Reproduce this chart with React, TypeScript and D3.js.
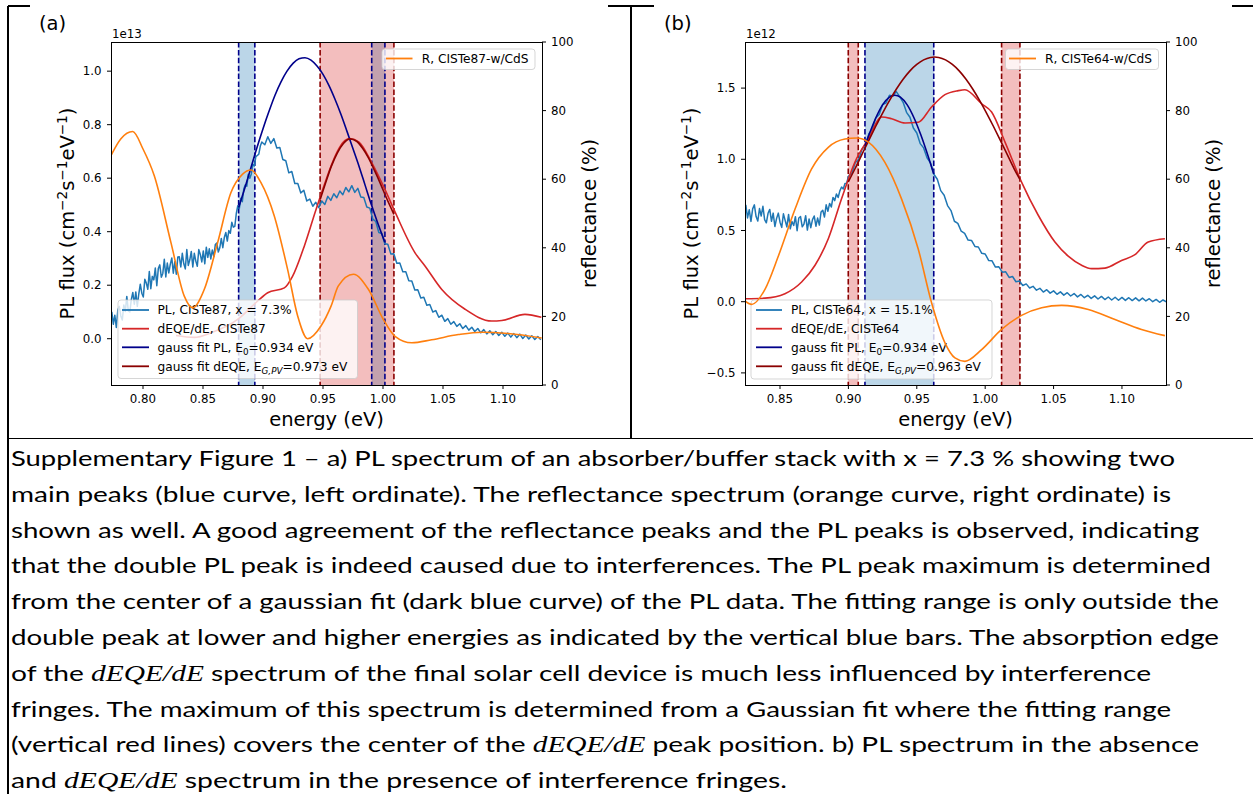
import React from "react";
import * as d3 from "d3";

// ================= panel (a) data =================
// PL flux, dense low-energy segment (noisy)
const PL_A_LOW_START = 0.774;
const PL_A_LOW_STEP = 0.00125;
const PL_A_LOW = [
  0.100, 0.054, 0.088, 0.042, 0.107, 0.121, 0.085, 0.070, 0.126, 0.102,
  0.158, 0.104, 0.100, 0.146, 0.173, 0.129, 0.175, 0.121, 0.168, 0.204,
  0.170, 0.156, 0.222, 0.208, 0.185, 0.251, 0.187, 0.233, 0.220, 0.264,
  0.198, 0.262, 0.276, 0.230, 0.244, 0.297, 0.231, 0.283, 0.246, 0.279,
  0.302, 0.245, 0.288, 0.241, 0.305, 0.306, 0.268, 0.319, 0.280, 0.261,
  0.333, 0.274, 0.295, 0.326, 0.268, 0.319, 0.290, 0.271, 0.333, 0.315,
  0.287, 0.328, 0.280, 0.342, 0.304, 0.336, 0.298, 0.332, 0.307, 0.352,
  0.358, 0.324, 0.340, 0.375, 0.340, 0.378, 0.397, 0.365, 0.404, 0.394,
  0.435, 0.417, 0.420, 0.468, 0.497, 0.486, 0.525, 0.512, 0.560, 0.575,
  0.570, 0.615, 0.600, 0.616, 0.652, 0.646, 0.680, 0.685, 0.690, 0.720,
];
// PL flux, high-energy segment
const PL_A_HIGH_START = 0.899;
const PL_A_HIGH_STEP = 0.0025;
const PL_A_HIGH = [
  0.735, 0.725, 0.755, 0.73, 0.748, 0.713, 0.715, 0.67, 0.665, 0.62,
  0.625, 0.58, 0.58, 0.545, 0.555, 0.515, 0.522, 0.495, 0.51, 0.49,
  0.515, 0.502, 0.532, 0.517, 0.542, 0.527, 0.552, 0.538, 0.565, 0.549,
  0.572, 0.547, 0.562, 0.53, 0.528, 0.492, 0.488, 0.447, 0.438, 0.397,
  0.393, 0.355, 0.353, 0.317, 0.318, 0.282, 0.283, 0.25, 0.25, 0.217,
  0.216, 0.182, 0.183, 0.152, 0.155, 0.125, 0.128, 0.10, 0.105, 0.08,
  0.088, 0.065, 0.075, 0.054, 0.064, 0.046, 0.056, 0.038, 0.049, 0.032,
  0.043, 0.027, 0.038, 0.022, 0.034, 0.018, 0.03, 0.015, 0.027, 0.012,
  0.024, 0.009, 0.021, 0.006, 0.019, 0.004, 0.017, 0.001, 0.014, -0.001,
  0.011, -0.003, 0.008, -0.004,
];
const DEQE_A_E = [0.8275, 0.8428, 0.8567, 0.8789, 0.8956, 0.9039, 0.9178, 0.9247, 0.9344, 0.9442, 0.9511, 0.9567, 0.962, 0.967, 0.9725, 0.98, 0.9906, 1.0017, 1.01, 1.0267, 1.035, 1.049, 1.0684, 1.0906, 1.099, 1.1183, 1.132];
const DEQE_A_V = [0.012, 0.005, 0.022, 0.072, 0.141, 0.172, 0.19, 0.234, 0.346, 0.483, 0.575, 0.645, 0.70, 0.735, 0.748, 0.735, 0.658, 0.557, 0.474, 0.321, 0.272, 0.184, 0.11, 0.066, 0.068, 0.091, 0.08];
const GPL_A_E = [0.8797, 0.885, 0.89, 0.895, 0.90, 0.905, 0.91, 0.915, 0.92, 0.925, 0.93, 0.935, 0.94, 0.945, 0.95, 0.955, 0.96, 0.965, 0.97, 0.975, 0.98, 0.985, 0.99, 0.995, 1.0016];
const GPL_A_V = [0.49, 0.565, 0.64, 0.715, 0.785, 0.85, 0.91, 0.96, 1.0, 1.029, 1.046, 1.05, 1.041, 1.019, 0.988, 0.946, 0.895, 0.838, 0.775, 0.71, 0.645, 0.575, 0.505, 0.44, 0.36];
const GDEQE_A_E = [0.9476, 0.952, 0.957, 0.962, 0.967, 0.9725, 0.978, 0.983, 0.988, 0.993, 0.998, 1.003, 1.0091];
const GDEQE_A_V = [0.52, 0.58, 0.645, 0.695, 0.73, 0.747, 0.738, 0.712, 0.675, 0.628, 0.578, 0.525, 0.465];
const REFL_A_E = [0.7733, 0.7816, 0.7914, 0.80, 0.8094, 0.8233, 0.8344, 0.8414, 0.8511, 0.8622, 0.8733, 0.883, 0.89, 0.8983, 0.9094, 0.9205, 0.9289, 0.9372, 0.9483, 0.9567, 0.9628, 0.9753, 0.9878, 1.0003, 1.01, 1.024, 1.0406, 1.0628, 1.0823, 1.1045, 1.1322];
const REFL_A_V = [66.9, 71.8, 73.9, 68.8, 61, 41.5, 25.9, 22.5, 27.9, 41.5, 56.1, 61.5, 62.7, 59, 49.3, 33.7, 20.1, 13.5, 17.2, 23, 28.9, 32.3, 27.9, 19.1, 14.2, 12.3, 13.2, 14.7, 15.4, 15.0, 13.7];
const BLUE_SPANS_A: [number, number][] = [[0.8797, 0.8932], [0.9906, 1.0016]];
const RED_SPANS_A: [number, number][] = [[0.9476, 1.0091]];
const X_TICKS_A = [0.8, 0.85, 0.9, 0.95, 1.0, 1.05, 1.1];
const Y_TICKS_A = [0.0, 0.2, 0.4, 0.6, 0.8, 1.0];

// ================= panel (b) data =================
const PL_B_LOW_START = 0.825;
const PL_B_LOW_STEP = 0.00125;
const PL_B_LOW = [
  0.68, 0.588, 0.646, 0.564, 0.652, 0.68, 0.598, 0.566, 0.654, 0.602,
  0.67, 0.577, 0.554, 0.621, 0.648, 0.565, 0.622, 0.528, 0.585, 0.622,
  0.558, 0.522, 0.617, 0.571, 0.525, 0.613, 0.512, 0.563, 0.535, 0.597,
  0.499, 0.588, 0.598, 0.526, 0.545, 0.604, 0.503, 0.581, 0.52, 0.576,
  0.602, 0.53, 0.587, 0.538, 0.63, 0.642, 0.595, 0.68, 0.635, 0.69,
  0.665, 0.732, 0.71, 0.756, 0.732, 0.778, 0.805, 0.792, 0.83, 0.832,
];
const PL_B_HIGH_START = 0.9;
const PL_B_HIGH_STEP = 0.0025;
const PL_B_HIGH = [
  0.88, 0.90, 0.975, 1.00, 1.07, 1.10, 1.18, 1.21, 1.29, 1.315,
  1.385, 1.395, 1.45, 1.445, 1.475, 1.44, 1.40, 1.33, 1.295, 1.22,
  1.185, 1.11, 1.08, 1.01, 0.975, 0.895, 0.86, 0.78, 0.748, 0.675,
  0.64, 0.565, 0.55, 0.495, 0.48, 0.433, 0.43, 0.388, 0.384, 0.34,
  0.335, 0.29, 0.287, 0.243, 0.245, 0.207, 0.21, 0.17, 0.177, 0.14,
  0.145, 0.114, 0.125, 0.096, 0.108, 0.081, 0.094, 0.068, 0.084, 0.06,
  0.076, 0.052, 0.069, 0.046, 0.063, 0.04, 0.057, 0.034, 0.051, 0.028,
  0.045, 0.023, 0.041, 0.019, 0.037, 0.015, 0.033, 0.012, 0.031, 0.01,
  0.03, 0.009, 0.028, 0.008, 0.027, 0.006, 0.025, 0.005, 0.021, 0.0,
  0.016, -0.004, 0.012, -0.002,
];
const DEQE_B_E = [0.8244, 0.839, 0.8536, 0.8658, 0.8756, 0.8853, 0.895, 0.9048, 0.9146, 0.9243, 0.9316, 0.9414, 0.9511, 0.9608, 0.9706, 0.9803, 0.9852, 0.9974, 1.0047, 1.0145, 1.0266, 1.0388, 1.051, 1.0607, 1.0705, 1.0778, 1.0876, 1.0997, 1.1095, 1.1192, 1.1314];
const DEQE_B_V = [0.021, 0.025, 0.056, 0.138, 0.256, 0.442, 0.723, 0.981, 1.145, 1.297, 1.285, 1.255, 1.26, 1.367, 1.454, 1.482, 1.488, 1.39, 1.332, 1.121, 0.84, 0.607, 0.419, 0.32, 0.256, 0.232, 0.236, 0.29, 0.33, 0.419, 0.442];
const GPL_B_E = [0.9121, 0.915, 0.92, 0.925, 0.93, 0.934, 0.938, 0.943, 0.948, 0.953, 0.958, 0.9624];
const GPL_B_V = [1.093, 1.17, 1.29, 1.382, 1.436, 1.45, 1.436, 1.382, 1.29, 1.17, 1.03, 0.897];
const GDEQE_B_E = [0.8999, 0.905, 0.91, 0.915, 0.92, 0.925, 0.93, 0.935, 0.94, 0.945, 0.95, 0.955, 0.96, 0.963, 0.966, 0.971, 0.976, 0.981, 0.986, 0.991, 0.996, 1.001, 1.006, 1.011, 1.016, 1.021, 1.0254];
const GDEQE_B_V = [0.841, 0.937, 1.036, 1.135, 1.232, 1.325, 1.412, 1.492, 1.562, 1.621, 1.666, 1.698, 1.715, 1.718, 1.715, 1.698, 1.666, 1.621, 1.562, 1.492, 1.412, 1.325, 1.232, 1.135, 1.036, 0.937, 0.858];
const REFL_B_E = [0.8244, 0.8293, 0.839, 0.8488, 0.861, 0.8731, 0.8853, 0.8975, 0.906, 0.9146, 0.9267, 0.9389, 0.9511, 0.9608, 0.9706, 0.9779, 0.9852, 0.9974, 1.012, 1.0266, 1.0413, 1.0559, 1.0754, 1.0949, 1.1143, 1.1314];
const REFL_B_V = [24.5, 23.5, 27.9, 37.6, 51.3, 63, 69.3, 71.7, 72, 70.8, 64.9, 54.2, 39.6, 24, 12.3, 7.9, 6.9, 10.3, 16.2, 20.3, 22.5, 23.2, 22, 19.1, 16.2, 14.4];
const BLUE_SPANS_B: [number, number][] = [[0.9121, 0.9624]];
const RED_SPANS_B: [number, number][] = [[0.8999, 0.9072], [1.012, 1.0254]];
const X_TICKS_B = [0.85, 0.9, 0.95, 1.0, 1.05, 1.1];
const Y_TICKS_B = [-0.5, 0.0, 0.5, 1.0, 1.5];

const R_TICKS = [0, 20, 40, 60, 80, 100];

const LEGEND_A = [
  { pre: "PL, CISTe87, x = 7.3%" },
  { pre: "dEQE/dE, CISTe87" },
  { pre: "gauss fit PL, E", sub: "0", post: "=0.934 eV" },
  { pre: "gauss fit dEQE, E", sub: "G,PV", it: true, post: "=0.973 eV" },
];
const LEGEND_B = [
  { pre: "PL, CISTe64, x = 15.1%" },
  { pre: "dEQE/dE, CISTe64" },
  { pre: "gauss fit PL, E", sub: "0", post: "=0.934 eV" },
  { pre: "gauss fit dEQE, E", sub: "G,PV", it: true, post: "=0.963 eV" },
];

const CAPTION = [
  "Supplementary Figure 1 – a) PL spectrum of an absorber/buffer stack with x = 7.3 % showing two",
  "main peaks (blue curve, left ordinate). The reflectance spectrum (orange curve, right ordinate) is",
  "shown as well. A good agreement of the reflectance peaks and the PL peaks is observed, indicating",
  "that the double PL peak is indeed caused due to interferences. The PL peak maximum is determined",
  "from the center of a gaussian fit (dark blue curve) of the PL data. The fitting range is only outside the",
  "double peak at lower and higher energies as indicated by the vertical blue bars. The absorption edge",
  "of the *dEQE/dE* spectrum of the final solar cell device is much less influenced by interference",
  "fringes. The maximum of this spectrum is determined from a Gaussian fit where the fitting range",
  "(vertical red lines) covers the center of the *dEQE/dE* peak position. b) PL spectrum in the absence",
  "and *dEQE/dE* spectrum in the presence of interference fringes.",
];
const CAPTION_END_X = [1175, 1171, 1199, 1211, 1219, 1219, 1151, 1171, 1199, 787];

// ================= styling =================
const C0 = "#1f77b4", C1 = "#ff7f0e", C3 = "#d62728", DB = "#00008b", DR = "#8b0000";
const FONT = "'DejaVu Sans', sans-serif";
const TICK_FS = 11.8;
const LEG_FS = 12.2;
const LABEL_FS = 19.5;

type LegendEntry = { pre: string; sub?: string; it?: boolean; post?: string };
type Segment = { start: number; step: number; vals: number[] };

interface Cfg {
  id: string;
  letter: string;
  letterX: number;
  left: number; right: number; top: number; bottom: number;
  xDom: [number, number]; yDom: [number, number];
  xTicks: number[]; yTicks: number[];
  offsetText: string;
  pl: Segment[];
  deqeE: number[]; deqeV: number[];
  gplE: number[]; gplV: number[];
  gdeqeE: number[]; gdeqeV: number[];
  reflE: number[]; reflV: number[];
  blueSpans: [number, number][]; redSpans: [number, number][];
  ylabelX: number; rlabelX: number;
  leg: { x0: number; x1: number; y0: number; y1: number; h0: number; h1: number; tx: number };
  legEntries: LegendEntry[];
  uleg: { x0: number; x1: number; h0: number; h1: number; tx: number };
  rText: string;
}

const CFG_A: Cfg = {
  id: "a", letter: "(a)", letterX: 39,
  left: 111, right: 542, top: 42, bottom: 385,
  xDom: [0.77333, 1.1325], yDom: [-0.173, 1.109],
  xTicks: X_TICKS_A, yTicks: Y_TICKS_A, offsetText: "1e13",
  pl: [
    { start: PL_A_LOW_START, step: PL_A_LOW_STEP, vals: PL_A_LOW },
    { start: PL_A_HIGH_START, step: PL_A_HIGH_STEP, vals: PL_A_HIGH },
  ],
  deqeE: DEQE_A_E, deqeV: DEQE_A_V, gplE: GPL_A_E, gplV: GPL_A_V,
  gdeqeE: GDEQE_A_E, gdeqeV: GDEQE_A_V, reflE: REFL_A_E, reflV: REFL_A_V,
  blueSpans: BLUE_SPANS_A, redSpans: RED_SPANS_A,
  ylabelX: 74, rlabelX: 596,
  leg: { x0: 118, x1: 357.5, y0: 300, y1: 378.5, h0: 122, h1: 149, tx: 157.5 },
  legEntries: LEGEND_A,
  uleg: { x0: 382, x1: 535, h0: 386, h1: 412.5, tx: 421.7 },
  rText: "R, CISTe87-w/CdS",
};

const CFG_B: Cfg = {
  id: "b", letter: "(b)", letterX: 664,
  left: 745, right: 1166, top: 42, bottom: 385,
  xDom: [0.8244, 1.1322], yDom: [-0.585, 1.8237],
  xTicks: X_TICKS_B, yTicks: Y_TICKS_B, offsetText: "1e12",
  pl: [
    { start: PL_B_LOW_START, step: PL_B_LOW_STEP, vals: PL_B_LOW },
    { start: PL_B_HIGH_START, step: PL_B_HIGH_STEP, vals: PL_B_HIGH },
  ],
  deqeE: DEQE_B_E, deqeV: DEQE_B_V, gplE: GPL_B_E, gplV: GPL_B_V,
  gdeqeE: GDEQE_B_E, gdeqeV: GDEQE_B_V, reflE: REFL_B_E, reflV: REFL_B_V,
  blueSpans: BLUE_SPANS_B, redSpans: RED_SPANS_B,
  ylabelX: 698, rlabelX: 1220,
  leg: { x0: 751, x1: 992, y0: 300, y1: 379, h0: 756, h1: 782, tx: 791 },
  legEntries: LEGEND_B,
  uleg: { x0: 1005.5, x1: 1158.5, h0: 1009, h1: 1036, tx: 1045 },
  rText: "R, CISTe64-w/CdS",
};

const minus = (s: string) => s.replace("-", "\u2212");

function LegendText({ x, y, e }: { x: number; y: number; e: LegendEntry }) {
  return (
    <text x={x} y={y} fontSize={LEG_FS} fontFamily={FONT} fill="#000">
      {e.pre}
      {e.sub && (
        <tspan dy={3.2} fontSize={8.8} fontStyle={e.it ? "italic" : "normal"}>{e.sub}</tspan>
      )}
      {e.post && <tspan dy={e.sub ? -3.2 : 0}>{e.post}</tspan>}
    </text>
  );
}

function Panel({ c }: { c: Cfg }) {
  const xs = d3.scaleLinear().domain(c.xDom).range([c.left, c.right]);
  const ys = d3.scaleLinear().domain(c.yDom).range([c.bottom, c.top]);
  const rs = d3.scaleLinear().domain([0, 100]).range([c.bottom, c.top]);
  const mk = (e: number[], v: number[], sc: d3.ScaleLinear<number, number>, curve: d3.CurveFactory) =>
    d3.line<number>().x((i) => xs(e[i])).y((i) => sc(v[i])).curve(curve)(d3.range(e.length)) || "";
  const plE: number[] = [];
  const plV: number[] = [];
  c.pl.forEach((s) => s.vals.forEach((v, i) => { plE.push(s.start + i * s.step); plV.push(v); }));
  const clip = `url(#clip-${c.id})`;
  const W = c.right - c.left, H = c.bottom - c.top;
  const rows = [310, 328.7, 347.3, 366.3];
  const legColors = [C0, C3, DB, DR];
  const cy = (c.top + c.bottom) / 2;
  const cx = (c.left + c.right) / 2;
  const sup = 7.5;
  return (
    <g>
      <defs>
        <clipPath id={`clip-${c.id}`}>
          <rect x={c.left} y={c.top} width={W} height={H} />
        </clipPath>
      </defs>
      <g clipPath={clip}>
        {c.blueSpans.map((s, i) => (
          <rect key={"bs" + i} x={xs(s[0])} y={c.top} width={xs(s[1]) - xs(s[0])} height={H} fill={C0} fillOpacity={0.3} />
        ))}
        {c.redSpans.map((s, i) => (
          <rect key={"rs" + i} x={xs(s[0])} y={c.top} width={xs(s[1]) - xs(s[0])} height={H} fill={C3} fillOpacity={0.3} />
        ))}
        {c.blueSpans.flat().map((e, i) => (
          <line key={"bl" + i} x1={xs(e)} x2={xs(e)} y1={c.top} y2={c.bottom} stroke={DB} strokeWidth={1.6} strokeDasharray="5.5,2.4" />
        ))}
        {c.redSpans.flat().map((e, i) => (
          <line key={"rl" + i} x1={xs(e)} x2={xs(e)} y1={c.top} y2={c.bottom} stroke={DR} strokeWidth={1.6} strokeDasharray="5.5,2.4" />
        ))}
        <path d={mk(plE, plV, ys, d3.curveLinear)} fill="none" stroke={C0} strokeWidth={1.5} strokeLinejoin="round" />
        <path d={mk(c.deqeE, c.deqeV, ys, d3.curveMonotoneX)} fill="none" stroke={C3} strokeWidth={1.6} strokeLinejoin="round" />
        <path d={mk(c.gplE, c.gplV, ys, d3.curveMonotoneX)} fill="none" stroke={DB} strokeWidth={1.6} />
        <path d={mk(c.gdeqeE, c.gdeqeV, ys, d3.curveMonotoneX)} fill="none" stroke={DR} strokeWidth={1.6} />
      </g>
      {/* lower-left legend */}
      <rect x={c.leg.x0} y={c.leg.y0} width={c.leg.x1 - c.leg.x0} height={c.leg.y1 - c.leg.y0} rx={3}
        fill="#fff" fillOpacity={0.8} stroke="#ccc" strokeOpacity={0.8} strokeWidth={1} />
      {c.legEntries.map((e, i) => (
        <g key={"le" + i}>
          <line x1={c.leg.h0} x2={c.leg.h1} y1={rows[i]} y2={rows[i]} stroke={legColors[i]} strokeWidth={1.8} />
          <LegendText x={c.leg.tx} y={rows[i] + 4.3} e={e} />
        </g>
      ))}
      {/* right axis content */}
      <g clipPath={clip}>
        <path d={mk(c.reflE, c.reflV, rs, d3.curveMonotoneX)} fill="none" stroke={C1} strokeWidth={1.6} />
      </g>
      <rect x={c.uleg.x0} y={49} width={c.uleg.x1 - c.uleg.x0} height={20.5} rx={3}
        fill="#fff" fillOpacity={0.8} stroke="#ccc" strokeOpacity={0.8} strokeWidth={1} />
      <line x1={c.uleg.h0} x2={c.uleg.h1} y1={58.5} y2={58.5} stroke={C1} strokeWidth={1.8} />
      <text x={c.uleg.tx} y={62.8} fontSize={LEG_FS} fontFamily={FONT} fill="#000">{c.rText}</text>
      {/* spines */}
      <rect x={c.left} y={c.top} width={W} height={H} fill="none" stroke="#000" strokeWidth={1} shapeRendering="crispEdges" />
      {/* x ticks */}
      {c.xTicks.map((t) => (
        <g key={"xt" + t}>
          <line x1={xs(t)} x2={xs(t)} y1={c.bottom} y2={c.bottom + 4} stroke="#000" strokeWidth={1} />
          <text x={xs(t)} y={402.5} textAnchor="middle" fontSize={TICK_FS} fontFamily={FONT} fill="#000">{t.toFixed(2)}</text>
        </g>
      ))}
      {/* left y ticks */}
      {c.yTicks.map((t) => (
        <g key={"yt" + t}>
          <line x1={c.left - 4} x2={c.left} y1={ys(t)} y2={ys(t)} stroke="#000" strokeWidth={1} />
          <text x={c.left - 9.5} y={ys(t) + 4.2} textAnchor="end" fontSize={TICK_FS} fontFamily={FONT} fill="#000">{minus(t.toFixed(1))}</text>
        </g>
      ))}
      {/* right y ticks */}
      {R_TICKS.map((t) => (
        <g key={"rt" + t}>
          <line x1={c.right} x2={c.right + 4} y1={rs(t)} y2={rs(t)} stroke="#000" strokeWidth={1} />
          <text x={c.right + 9} y={rs(t) + 4.2} fontSize={TICK_FS} fontFamily={FONT} fill="#000">{t}</text>
        </g>
      ))}
      <text x={c.left + 1} y={38.3} fontSize={TICK_FS} fontFamily={FONT} fill="#000">{c.offsetText}</text>
      <text x={c.letterX} y={30} fontSize={LABEL_FS} fontFamily={FONT} fill="#000">{c.letter}</text>
      <text x={cx} y={425.5} textAnchor="middle" fontSize={LABEL_FS} fontFamily={FONT} fill="#000">energy (eV)</text>
      <text transform={`translate(${c.ylabelX},${cy}) rotate(-90)`} textAnchor="middle" fontSize={LABEL_FS} fontFamily={FONT} fill="#000">
        PL flux (cm
        <tspan dy={-sup} fontSize={13.6}>{"\u22122"}</tspan>
        <tspan dy={sup}>s</tspan>
        <tspan dy={-sup} fontSize={13.6}>{"\u22121"}</tspan>
        <tspan dy={sup}>eV</tspan>
        <tspan dy={-sup} fontSize={13.6}>{"\u22121"}</tspan>
        <tspan dy={sup}>)</tspan>
      </text>
      <text transform={`translate(${c.rlabelX},${cy}) rotate(-90)`} textAnchor="middle" fontSize={LABEL_FS} fontFamily={FONT} fill="#000">
        reflectance (%)
      </text>
    </g>
  );
}

function Caption() {
  const x0 = 11;
  const base = 466;
  const step = 35.8;
  return (
    <g>
      {CAPTION.map((line, i) => {
        const parts = line.split("*");
        return (
          <text key={"cap" + i} x={x0} y={base + i * step} fontSize={21.5}
            fontFamily="Lato, 'Liberation Sans', Arial, sans-serif" fill="#000"
            textLength={CAPTION_END_X[i] - x0} lengthAdjust="spacingAndGlyphs">
            {parts.map((p, j) =>
              j % 2 === 1 ? (
                <tspan key={j} fontFamily="'Liberation Serif', 'DejaVu Serif', serif" fontStyle="italic" fontSize={22.5}>{p}</tspan>
              ) : (
                <tspan key={j}>{p}</tspan>
              )
            )}
          </text>
        );
      })}
    </g>
  );
}

export default function App() {
  return (
    <div style={{ position: "absolute", left: 0, top: 0 }}>
      <svg width={1253} height={794} viewBox="0 0 1253 794" style={{ display: "block", background: "#fff" }}>
        <rect x={0} y={0} width={1253} height={794} fill="#fff" />
        {/* table borders */}
        <g stroke="#000" shapeRendering="crispEdges">
          <line x1={8} y1={6} x2={8} y2={794} strokeWidth={1.5} />
          <line x1={631} y1={6} x2={631} y2={439} strokeWidth={1.5} />
          <line x1={8} y1={438.5} x2={1253} y2={438.5} strokeWidth={1} />
          <line x1={8} y1={6} x2={30} y2={6} strokeWidth={1.5} />
          <line x1={608} y1={6} x2={654} y2={6} strokeWidth={1.5} />
          <line x1={1232} y1={6} x2={1253} y2={6} strokeWidth={1.5} />
          <line x1={8} y1={438.5} x2={30} y2={438.5} strokeWidth={1.5} />
          <line x1={608} y1={438.5} x2={654} y2={438.5} strokeWidth={1.5} />
          <line x1={1232} y1={438.5} x2={1253} y2={438.5} strokeWidth={1.5} />
        </g>
        <Panel c={CFG_A} />
        <Panel c={CFG_B} />
        <Caption />
      </svg>
    </div>
  );
}
